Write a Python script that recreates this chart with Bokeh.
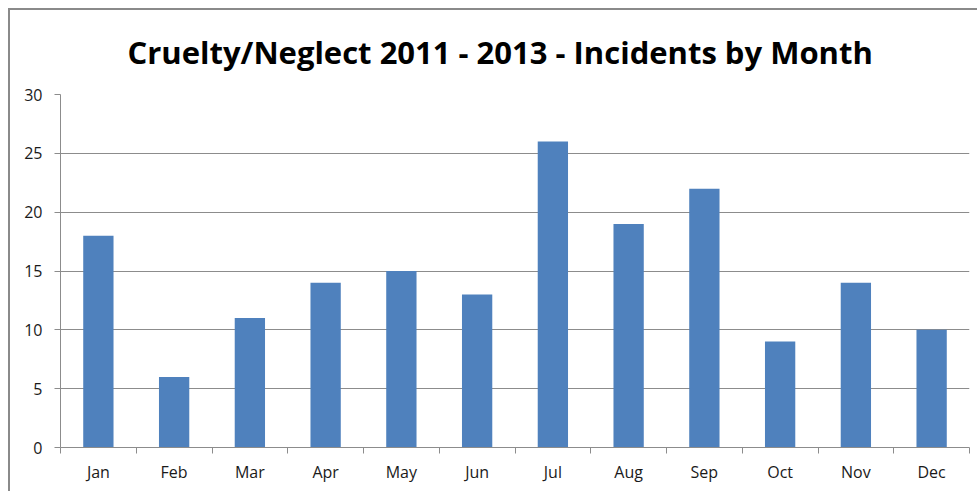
from bokeh.plotting import figure
from bokeh.models import FixedTicker, Range1d
from bokeh.embed import file_html
from bokeh.resources import INLINE

months = ["Jan", "Feb", "Mar", "Apr", "May", "Jun", "Jul", "Aug", "Sep", "Oct", "Nov", "Dec"]
incidents = [18, 6, 11, 14, 15, 13, 26, 19, 22, 9, 14, 10]
y_ticks = [0, 5, 10, 15, 20, 25, 30]
title_text = "Cruelty/Neglect 2011 - 2013 - Incidents by Month"

xpos = list(range(1, len(months) + 1))

p = figure(width=969, height=483, output_backend="svg", toolbar_location=None,
           x_range=Range1d(0.5, len(months) + 0.5), y_range=Range1d(0, 30),
           min_border_left=50, min_border_right=10, min_border_top=84, min_border_bottom=46,
           styles={"margin-left": "8px", "margin-top": "8px",
                   "border-left": "2px solid #8a8a8a", "border-top": "2px solid #8a8a8a"})

p.title.text = title_text
p.title.align = "left"
p.title.vertical_align = "top"
p.title.text_font = "Open Sans"
p.title.text_font_style = "bold"
p.title.text_font_size = "31px"
p.title.text_color = "#000000"
p.title.offset = 67
p.title.standoff = 39

p.vbar(x=xpos, top=incidents, width=0.4, fill_color="#4F81BD", line_color=None)

p.outline_line_color = None
p.xgrid.grid_line_color = None
p.ygrid.grid_line_color = "#8c8c8c"
p.ygrid.ticker = FixedTicker(ticks=y_ticks)

p.yaxis.ticker = FixedTicker(ticks=y_ticks)
p.yaxis.axis_line_color = "#8c8c8c"
p.yaxis.major_tick_line_color = "#8c8c8c"
p.yaxis.major_tick_in = 0
p.yaxis.major_tick_out = 6
p.yaxis.minor_tick_line_color = None
p.yaxis.major_label_text_font = "Open Sans"
p.yaxis.major_label_text_font_size = "16px"
p.yaxis.major_label_text_color = "#1a1a1a"
p.yaxis.major_label_standoff = 12

p.xaxis.ticker = FixedTicker(ticks=xpos, minor_ticks=[i + 0.5 for i in range(0, len(months) + 1)])
p.xaxis.major_label_overrides = {i: m for i, m in zip(xpos, months)}
p.xaxis.axis_line_color = "#8c8c8c"
p.xaxis.major_tick_line_color = None
p.xaxis.minor_tick_line_color = "#8c8c8c"
p.xaxis.minor_tick_in = 0
p.xaxis.minor_tick_out = 6
p.xaxis.major_label_text_font = "Open Sans"
p.xaxis.major_label_text_font_size = "16px"
p.xaxis.major_label_text_color = "#1a1a1a"
p.xaxis.major_label_standoff = 7

open("out.html", "w").write(file_html(p, INLINE))
